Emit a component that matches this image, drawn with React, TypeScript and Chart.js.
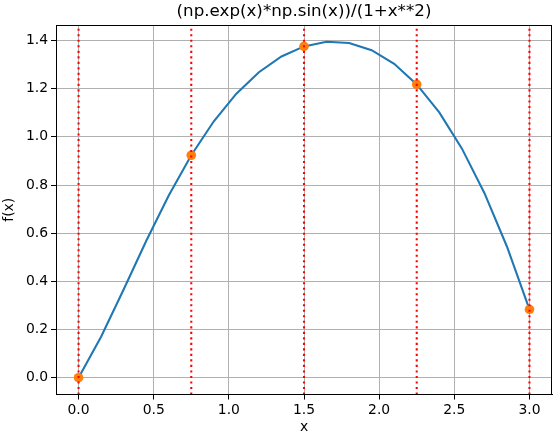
import React, { useEffect, useRef } from "react";
import { Chart, registerables } from "chart.js";

Chart.register(...registerables);

const xValues = [0, 0.15, 0.3, 0.45, 0.6, 0.75, 0.9, 1.05, 1.2, 1.35, 1.5, 1.65, 1.8, 1.95, 2.1, 2.25, 2.4, 2.55, 2.7, 2.85, 3.0];
const yValues = [0, 0.1698, 0.366, 0.5673, 0.7565, 0.9235, 1.0645, 1.179, 1.2682, 1.3335, 1.3755, 1.3944, 1.3895, 1.3596, 1.303, 1.2177, 1.1015, 0.952, 0.7671, 0.5448, 0.2834];
const markerX = [0, 0.75, 1.5, 2.25, 3.0];
const markerY = [0, 0.9235, 1.3755, 1.2177, 0.2834];
const xTicks = [0, 0.5, 1.0, 1.5, 2.0, 2.5, 3.0];
const yTicks = [0, 0.2, 0.4, 0.6, 0.8, 1.0, 1.2, 1.4];
const xRange = [-0.15, 3.15];
const yRange = [-0.0697, 1.4641];
const titleText = "(np.exp(x)*np.sin(x))/(1+x**2)";
const xLabel = "x";
const yLabel = "f(x)";

const FONT = "'DejaVu Sans', sans-serif";

const frame = {
  id: "frame",
  afterDatasetsDraw(chart: any) {
    const { ctx, chartArea } = chart;
    ctx.save();
    ctx.strokeStyle = "#000";
    ctx.lineWidth = 1;
    const l = Math.round(chartArea.left) + 0.5;
    const t = Math.round(chartArea.top) + 0.5;
    const r = Math.round(chartArea.right) - 0.5;
    const b = Math.round(chartArea.bottom) - 0.5;
    ctx.strokeRect(l, t, r - l, b - t);
    ctx.restore();
  },
};

export default function App() {
  const ref = useRef<HTMLCanvasElement | null>(null);
  useEffect(() => {
    document.body.style.margin = "0";
    const vlines = markerX.map((xv) => ({
      type: "scatter" as const,
      data: [
        { x: xv, y: yRange[0] },
        { x: xv, y: yRange[1] },
      ],
      showLine: true,
      borderColor: "red",
      borderWidth: 2.08,
      borderDash: [2.08, 3.43],
      borderCapStyle: "butt" as const,
      pointRadius: 0,
      order: 0,
    }));
    const chart = new Chart(ref.current!, {
      type: "scatter",
      data: {
        datasets: [
          ...vlines,
          {
            data: markerX.map((x, i) => ({ x, y: markerY[i] })),
            showLine: false,
            backgroundColor: "#ff7f0e",
            borderColor: "#ff7f0e",
            pointRadius: 4.8,
            pointBorderWidth: 0,
            order: 1,
          },
          {
            data: xValues.map((x, i) => ({ x, y: yValues[i] })),
            showLine: true,
            borderColor: "#1f77b4",
            borderWidth: 2.08,
            pointRadius: 0,
            order: 2,
          },
        ] as any,
      },
      options: {
        animation: false,
        responsive: false,
        layout: { padding: { left: 0, right: 5, top: 0, bottom: 0 } },
        plugins: {
          legend: { display: false },
          tooltip: { enabled: false },
          title: {
            display: true,
            text: titleText,
            fullSize: false,
            color: "#000",
            font: { family: FONT, size: 16.7, weight: "normal", lineHeight: 1.2 },
            padding: { top: 2, bottom: 3 },
          },
        },
        scales: {
          x: {
            type: "linear",
            min: xRange[0],
            max: xRange[1],
            afterFit: (s: any) => {
              s.height = 42.5;
            },
            afterBuildTicks: (s: any) => {
              s.ticks = xTicks.map((v) => ({ value: v }));
            },
            ticks: {
              color: "#000",
              font: { family: FONT, size: 13.9 },
              padding: 3,
              maxRotation: 0,
              callback: (v: any) => Number(v).toFixed(1),
            },
            grid: { color: "#b0b0b0", lineWidth: 1, tickLength: 5, tickColor: "#000" },
            border: { display: true, color: "#000", width: 1 },
            title: {
              display: true,
              text: xLabel,
              color: "#000",
              font: { family: FONT, size: 13.9 },
              padding: { top: 0, bottom: 1 },
            },
          },
          y: {
            type: "linear",
            min: yRange[0],
            max: yRange[1],
            afterFit: (s: any) => {
              s.width = 56;
            },
            afterBuildTicks: (s: any) => {
              s.ticks = yTicks.map((v) => ({ value: v }));
            },
            ticks: {
              color: "#000",
              font: { family: FONT, size: 13.9 },
              padding: 3,
              callback: (v: any) => Number(v).toFixed(1),
            },
            grid: { color: "#b0b0b0", lineWidth: 1, tickLength: 5, tickColor: "#000" },
            border: { display: true, color: "#000", width: 1 },
            title: {
              display: true,
              text: yLabel,
              color: "#000",
              font: { family: FONT, size: 13.9 },
              padding: { top: 1, bottom: 0 },
            },
          },
        },
      } as any,
      plugins: [frame],
    });
    return () => chart.destroy();
  }, []);
  return (
    <div style={{ position: "absolute", left: 0, top: 0 }}>
      <canvas ref={ref} width={557} height={437} />
    </div>
  );
}
